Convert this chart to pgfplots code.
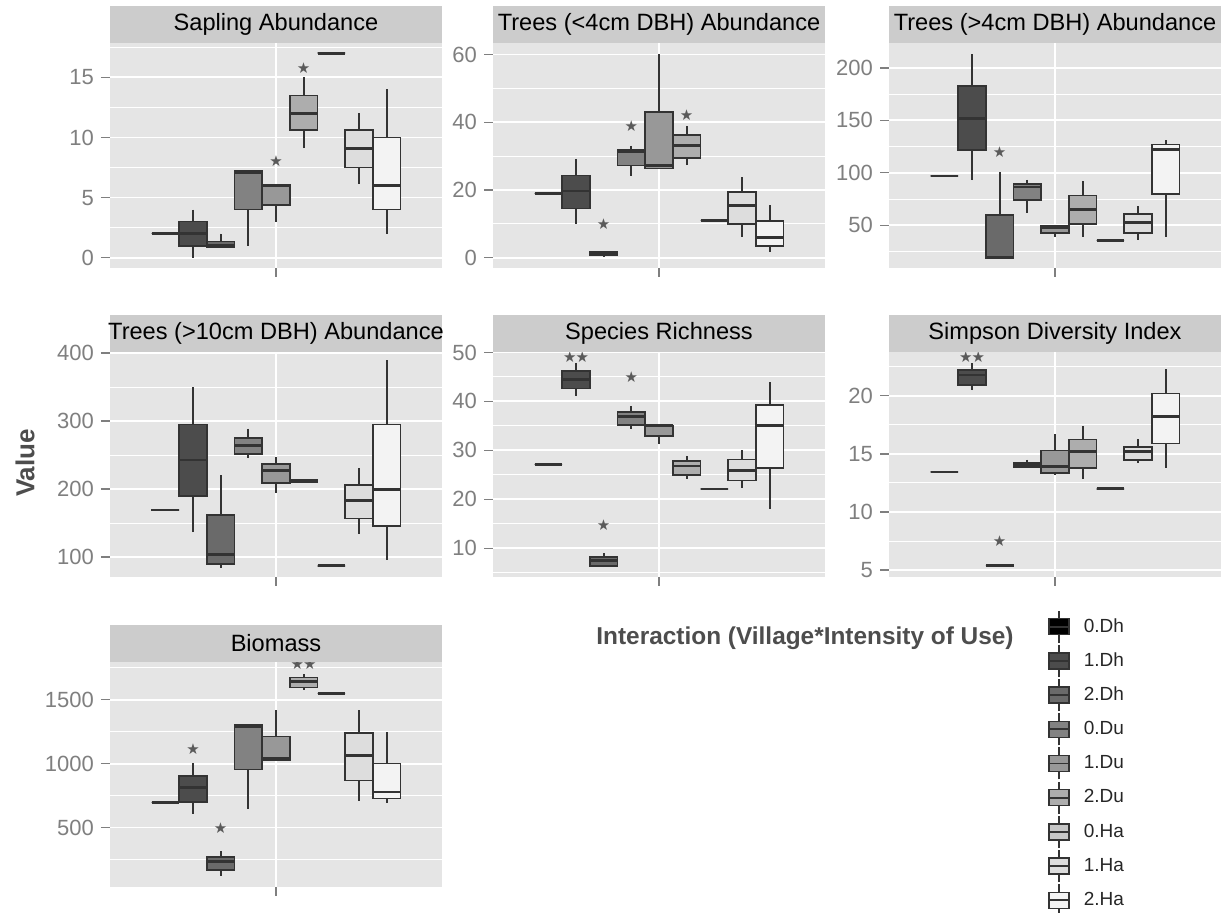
\documentclass[border=0pt]{standalone}
\usepackage{fontspec}
\setmainfont{Liberation Sans}
\newfontfamily\symfont{DejaVu Sans}
\usepackage{pgfplots}
\usepackage{pgfplotstable}
\pgfplotsset{compat=1.18}
\usepgfplotslibrary{statistics}

\definecolor{panelbg}{HTML}{E5E5E5}
\definecolor{stripbg}{HTML}{CCCCCC}
\definecolor{ticktext}{HTML}{7F7F7F}
\definecolor{boxline}{HTML}{333333}
\definecolor{stargray}{HTML}{5A5A5A}
\definecolor{axtitle}{HTML}{4D4D4D}
\definecolor{legtext}{HTML}{262626}
\definecolor{c0}{HTML}{000000}
\definecolor{c1}{HTML}{4C4C4C}
\definecolor{c2}{HTML}{6A6A6A}
\definecolor{c3}{HTML}{828282}
\definecolor{c4}{HTML}{989898}
\definecolor{c5}{HTML}{ADADAD}
\definecolor{c6}{HTML}{C6C6C6}
\definecolor{c7}{HTML}{DDDDDD}
\definecolor{c8}{HTML}{F3F3F3}

% rows: 0.Dh 1.Dh 2.Dh 0.Du 1.Du 2.Du 0.Ha 1.Ha 2.Ha
\pgfplotstableread{
lw q1 med q3 uw
2 2 2 2 2
0 1 2 3 4
0.85 0.85 1.05 1.35 2
1 4 7.1 7.2 7.2
3 4.4 6 6.1 6.1
9.1 10.6 12 13.5 15
17 17 17 17 17
6.1 7.5 9.1 10.6 12
2 4 6 10 14
}\tSap

\pgfplotstableread{
lw q1 med q3 uw
19 19 19 19 19
10 14.5 19.7 24.3 29.2
0.3 0.9 1.3 1.9 2
24.1 27.3 31.2 31.8 33.1
26.3 26.3 27.3 43.1 60
27.3 29.5 33.2 36.2 39
11 11 11 11 11
6.2 10 15.4 19.4 23.8
1.8 3.4 6.1 10.8 15.7
}\tSmall

\pgfplotstableread{
lw q1 med q3 uw
97 97 97 97 97
93 121.5 152 183 213
18.9 18.9 19.5 60 101
62 74 86.5 89.6 93.5
39 42.7 48 49.7 49.7
39 51.3 65 78.3 92.6
35.4 35.4 35.4 35.4 35.4
35.7 42.7 52.9 60.8 68.1
38.6 80 122 127 131
}\tMid

\pgfplotstableread{
lw q1 med q3 uw
169 169 169 169 169
136.7 189.4 242.5 294.7 349.3
84.5 90 103.4 162 220.2
245 251.5 263.4 274.8 288.7
194.3 208.7 227.6 236.6 247.5
209 210 211.5 213 213
87 87 87 87 87
133.2 156.6 182.9 206.3 231.1
96 145.7 199.3 294.7 390
}\tLarge

\pgfplotstableread{
lw q1 med q3 uw
27.1 27.1 27.1 27.1 27.1
41.1 42.6 44.5 46.2 47.9
6.1 6.4 7.4 8.2 9.0
34.3 35.2 36.9 37.8 39.1
31.2 32.9 35.0 35.1 35.1
24.2 24.9 26.8 27.8 28.9
22.1 22.1 22.1 22.1 22.1
22.2 23.8 25.9 28.1 30.0
18.1 26.4 35.1 39.3 44.0
}\tRich

\pgfplotstableread{
lw q1 med q3 uw
13.45 13.45 13.45 13.45 13.45
20.5 20.95 21.8 22.25 22.8
5.38 5.38 5.38 5.38 5.38
13.85 13.85 14.0 14.2 14.5
13.15 13.37 13.94 15.3 16.7
12.8 13.8 15.2 16.25 17.4
12.0 12.0 12.0 12.0 12.0
14.2 14.46 15.2 15.6 16.25
13.75 15.9 18.2 20.2 22.3
}\tSimp

\pgfplotstableread{
lw q1 med q3 uw
695 695 695 695 695
609 700 812 902 1004
123 167 232 271 316
648 955 1292 1303 1303
1025 1025 1043 1214 1419
1578 1596 1643 1674 1700
1549 1549 1549 1549 1549
708 869 1064 1240 1419
695 726 778 1000 1245
}\tBio

\newcommand\bp[2]{%
  \pgfplotstablegetelem{#2}{lw}\of{#1}\let\vlw\pgfplotsretval
  \pgfplotstablegetelem{#2}{q1}\of{#1}\let\vqa\pgfplotsretval
  \pgfplotstablegetelem{#2}{med}\of{#1}\let\vmed\pgfplotsretval
  \pgfplotstablegetelem{#2}{q3}\of{#1}\let\vqb\pgfplotsretval
  \pgfplotstablegetelem{#2}{uw}\of{#1}\let\vuw\pgfplotsretval
  \pgfmathsetmacro\vdp{60+10*#2}%
  \edef\doplot{\noexpand\addplot[boxplot prepared={draw direction=y, draw position=\vdp, lower whisker=\vlw, lower quartile=\vqa, median=\vmed, upper quartile=\vqb, upper whisker=\vuw}, fill=c#2, draw=boxline] coordinates {};}%
  \doplot
}
\newcommand\allboxes[1]{\pgfplotsinvokeforeach{0,...,8}{\bp{#1}{##1}}}
\newcommand\strip[1]{\makebox[0pt]{#1}}
\newcommand\onestar{{\symfont\fontsize{7.5}{8}\selectfont ★}}
\newcommand\twostar{{\symfont\fontsize{7.5}{8}\selectfont ★\kern-0.5pt★}}
\newcommand\legkey[1]{%
  \draw[line width=0.7pt, draw=boxline] (5pt,-8pt)--(5pt,8pt);
  \filldraw[line width=0.7pt, draw=boxline, fill=#1] (0pt,-4pt) rectangle (10pt,4pt);
  \draw[line width=0.9pt, draw=boxline] (0pt,0pt)--(10pt,0pt);}

\pgfplotsset{
  facet/.style={
    scale only axis, width=166pt, height=112.5pt,
    xmin=40, xmax=160,
    axis background/.style={fill=panelbg},
    axis line style={draw=none},
    xtick={100}, xticklabels={},
    tick align=outside, tick pos=left,
    major tick length=4.5pt, minor tick length=0pt,
    tick style={draw=ticktext, line width=0.6pt},
    xmajorgrids, ymajorgrids, yminorgrids,
    major grid style={white, line width=0.9pt},
    minor grid style={white, line width=0.45pt},
    yticklabel style={font=\fontsize{11}{13}\selectfont, text=ticktext},
    /pgf/number format/assume math mode=true,
    /pgf/number format/1000 sep={},
    scaled y ticks=false,
    clip=false,
    every axis title/.style={at={(0.5,1)}, anchor=south, fill=stripbg,
      minimum width=166pt, minimum height=18.5pt, inner sep=0pt,
      font=\fontsize{11.8}{14}\selectfont, text=black},
    boxplot/draw direction=y,
    boxplot/box extend=10, boxplot/whisker extend=0,
    boxplot/every median/.style={line width=1.4pt},
    boxplot/every whisker/.style={line width=0.85pt},
    boxplot/every box/.style={line width=0.8pt},
    every axis plot/.append style={line width=0.8pt},
  },
  stars/.style={only marks, mark=text, text mark as node=true,
    text mark style={inner sep=0pt, text=stargray}, color=stargray},
}

\begin{document}
\begin{tikzpicture}
\path[use as bounding box] (0,0) rectangle (613.5pt,456.5pt);

% Row 1
\begin{axis}[facet, at={(55pt,322.5pt)}, anchor=south west,
  title={\strip{Sapling Abundance}},
  ymin=-0.85, ymax=17.85, ytick={0,5,10,15}, minor ytick={2.5,7.5,12.5,17.5}]
\allboxes{\tSap}
\addplot[stars, text mark={\onestar}] coordinates {(100,8.0) (110,15.8)};
\end{axis}

\begin{axis}[facet, at={(246.5pt,322.5pt)}, anchor=south west,
  title={\strip{Trees (<4cm DBH) Abundance}},
  ymin=-3, ymax=63.4, ytick={0,20,40,60}, minor ytick={10,30,50}]
\allboxes{\tSmall}
\addplot[stars, text mark={\onestar}] coordinates {(80,9.8) (90,38.8) (110,42.1)};
\end{axis}

\begin{axis}[facet, at={(444.5pt,322.5pt)}, anchor=south west,
  title={\strip{Trees (>4cm DBH) Abundance}},
  ymin=9.3, ymax=223.8, ytick={50,100,150,200}, minor ytick={25,75,125,175}]
\allboxes{\tMid}
\addplot[stars, text mark={\onestar}] coordinates {(80,119.6)};
\end{axis}

% Row 2
\begin{axis}[facet, at={(55pt,168pt)}, anchor=south west,
  title={\strip{Trees (>10cm DBH) Abundance}},
  ymin=70.6, ymax=401.5, ytick={100,200,300,400}, minor ytick={150,250,350}]
\allboxes{\tLarge}
\end{axis}

\begin{axis}[facet, at={(246.5pt,168pt)}, anchor=south west,
  title={\strip{Species Richness}},
  ymin=4.1, ymax=50.1, ytick={10,20,30,40,50}, minor ytick={5,15,25,35,45}]
\allboxes{\tRich}
\addplot[stars, text mark={\twostar}] coordinates {(70,49.0)};
\addplot[stars, text mark={\onestar}] coordinates {(80,14.8) (90,44.9)};
\end{axis}

\begin{axis}[facet, at={(444.5pt,168pt)}, anchor=south west,
  title={\strip{Simpson Diversity Index}},
  ymin=4.4, ymax=23.78, ytick={5,10,15,20}, minor ytick={7.5,12.5,17.5,22.5}]
\allboxes{\tSimp}
\addplot[stars, text mark={\twostar}] coordinates {(70,23.3)};
\addplot[stars, text mark={\onestar}] coordinates {(80,7.5)};
\end{axis}

% Row 3
\begin{axis}[facet, at={(55pt,13pt)}, anchor=south west,
  title={\strip{Biomass}},
  ymin=35, ymax=1796, ytick={500,1000,1500}, minor ytick={250,750,1250,1750}]
\allboxes{\tBio}
\addplot[stars, text mark={\onestar}] coordinates {(70,1116) (80,492)};
\addplot[stars, text mark={\twostar}] coordinates {(110,1778)};
\end{axis}

% Legend
\begin{axis}[at={(524pt,151.5pt)}, anchor=north west, scale only axis,
  width=20pt, height=20pt, hide axis, xmin=0, xmax=1, ymin=0, ymax=1,
  legend cell align=left,
  legend style={at={(0,1)}, anchor=north west, draw=none, fill=none,
    inner sep=0pt, outer sep=0pt, row sep=0.4pt, column sep=6.5pt,
    font=\fontsize{9.5}{11}\selectfont, text=legtext,
    nodes={inner sep=0.5pt}}]
\addlegendimage{legend image code/.code={\legkey{c0}}}\addlegendentry{0.Dh}
\addlegendimage{legend image code/.code={\legkey{c1}}}\addlegendentry{1.Dh}
\addlegendimage{legend image code/.code={\legkey{c2}}}\addlegendentry{2.Dh}
\addlegendimage{legend image code/.code={\legkey{c3}}}\addlegendentry{0.Du}
\addlegendimage{legend image code/.code={\legkey{c4}}}\addlegendentry{1.Du}
\addlegendimage{legend image code/.code={\legkey{c5}}}\addlegendentry{2.Du}
\addlegendimage{legend image code/.code={\legkey{c6}}}\addlegendentry{0.Ha}
\addlegendimage{legend image code/.code={\legkey{c7}}}\addlegendentry{1.Ha}
\addlegendimage{legend image code/.code={\legkey{c8}}}\addlegendentry{2.Ha}
\end{axis}

\node[rotate=90, font=\bfseries\fontsize{13}{15}\selectfont, text=axtitle] at (12.5pt,225pt) {Value};
\node[font=\bfseries\fontsize{12.2}{15}\selectfont, text=axtitle] at (402.5pt,137.5pt) {Interaction (Village*Intensity of Use)};
\end{tikzpicture}
\end{document}
